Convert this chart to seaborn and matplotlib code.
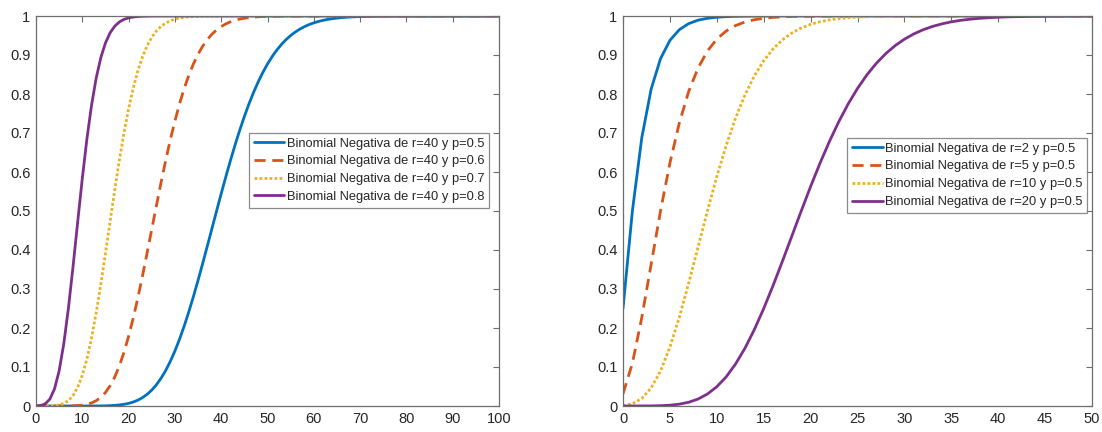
import matplotlib
matplotlib.use("Agg")
import matplotlib.pyplot as plt
import matplotlib.ticker as mticker
import seaborn as sns
import pandas as pd

# ---------------- data ----------------
x_left = list(range(0, 101))
cdf_r40_p05 = [0, 0, 0, 0, 0, 0, 0, 0, 0, 0,
               0.0000, 0.0000, 0.0001, 0.0001, 0.0003, 0.0005, 0.0009, 0.0016, 0.0027, 0.0043,
               0.0067, 0.0102, 0.0150, 0.0215, 0.0300, 0.0408, 0.0544, 0.0710, 0.0909, 0.1142,
               0.1410, 0.1712, 0.2048, 0.2414, 0.2807, 0.3222, 0.3655, 0.4100, 0.4550, 0.5000,
               0.5445, 0.5879, 0.6297, 0.6696, 0.7072, 0.7423, 0.7747, 0.8044, 0.8313, 0.8555,
               0.8770, 0.8959, 0.9125, 0.9269, 0.9393, 0.9499, 0.9589, 0.9665, 0.9728, 0.9781,
               0.9824, 0.9860, 0.9889, 0.9912, 0.9931, 0.9946, 0.9958, 0.9968, 0.9975, 0.9981,
               0.9985, 0.9989, 0.9992, 0.9994, 0.9995, 0.9997, 0.9997, 0.9998, 0.9999, 0.9999,
               0.9999, 1.0, 1.0, 1.0, 1.0, 1.0, 1.0, 1.0, 1.0, 1.0,
               1.0, 1.0, 1.0, 1.0, 1.0, 1.0, 1.0, 1.0, 1.0, 1.0,
               1.0]
cdf_r40_p06 = [0, 0, 0, 0, 0, 0, 0.0001, 0.0002, 0.0005, 0.0010,
               0.0022, 0.0043, 0.0079, 0.0136, 0.0222, 0.0346, 0.0517, 0.0742, 0.1027, 0.1375,
               0.1786, 0.2255, 0.2776, 0.3338, 0.3927, 0.4531, 0.5134, 0.5725, 0.6290, 0.6820,
               0.7307, 0.7748, 0.8138, 0.8479, 0.8772, 0.9020, 0.9226, 0.9396, 0.9534, 0.9644,
               0.9730, 0.9798, 0.9851, 0.9890, 0.9921, 0.9943, 0.9960, 0.9972, 0.9981, 0.9987,
               0.9991, 0.9993, 0.9995, 0.9997, 0.9998, 0.9998, 0.9999, 0.9999, 1.0, 1.0,
               1.0, 1.0, 1.0, 1.0, 1.0, 1.0, 1.0, 1.0, 1.0, 1.0,
               1.0, 1.0, 1.0, 1.0, 1.0, 1.0, 1.0, 1.0, 1.0, 1.0,
               1.0, 1.0, 1.0, 1.0, 1.0, 1.0, 1.0, 1.0, 1.0, 1.0,
               1.0, 1.0, 1.0, 1.0, 1.0, 1.0, 1.0, 1.0, 1.0, 1.0,
               1.0]
cdf_r40_p07 = [0, 0, 0.0001, 0.0003, 0.0009, 0.0026, 0.0064, 0.0138, 0.0269, 0.0480,
               0.0789, 0.1210, 0.1747, 0.2392, 0.3124, 0.3914, 0.4730, 0.5535, 0.6301, 0.7002,
               0.7622, 0.8154, 0.8596, 0.8954, 0.9236, 0.9452, 0.9615, 0.9734, 0.9819, 0.9879,
               0.9920, 0.9949, 0.9967, 0.9980, 0.9987, 0.9992, 0.9996, 0.9997, 0.9999, 0.9999,
               1.0, 1.0, 1.0, 1.0, 1.0, 1.0, 1.0, 1.0, 1.0, 1.0,
               1.0, 1.0, 1.0, 1.0, 1.0, 1.0, 1.0, 1.0, 1.0, 1.0,
               1.0, 1.0, 1.0, 1.0, 1.0, 1.0, 1.0, 1.0, 1.0, 1.0,
               1.0, 1.0, 1.0, 1.0, 1.0, 1.0, 1.0, 1.0, 1.0, 1.0,
               1.0, 1.0, 1.0, 1.0, 1.0, 1.0, 1.0, 1.0, 1.0, 1.0,
               1.0, 1.0, 1.0, 1.0, 1.0, 1.0, 1.0, 1.0, 1.0, 1.0,
               1.0]
cdf_r40_p08 = [0.0001, 0.0012, 0.0056, 0.0178, 0.0440, 0.0902, 0.1595, 0.2506, 0.3576, 0.4717,
               0.5836, 0.6853, 0.7717, 0.8409, 0.8932, 0.9309, 0.9568, 0.9739, 0.9847, 0.9913,
               0.9952, 0.9974, 0.9987, 0.9993, 0.9997, 0.9999, 1.0, 1.0, 1.0, 1.0,
               1.0, 1.0, 1.0, 1.0, 1.0, 1.0, 1.0, 1.0, 1.0, 1.0,
               1.0, 1.0, 1.0, 1.0, 1.0, 1.0, 1.0, 1.0, 1.0, 1.0,
               1.0, 1.0, 1.0, 1.0, 1.0, 1.0, 1.0, 1.0, 1.0, 1.0,
               1.0, 1.0, 1.0, 1.0, 1.0, 1.0, 1.0, 1.0, 1.0, 1.0,
               1.0, 1.0, 1.0, 1.0, 1.0, 1.0, 1.0, 1.0, 1.0, 1.0,
               1.0, 1.0, 1.0, 1.0, 1.0, 1.0, 1.0, 1.0, 1.0, 1.0,
               1.0, 1.0, 1.0, 1.0, 1.0, 1.0, 1.0, 1.0, 1.0, 1.0,
               1.0]

x_right = list(range(0, 51))
cdf_r2_p05 = [0.25, 0.5, 0.6875, 0.8125, 0.8906, 0.9375, 0.9648, 0.9805, 0.9893, 0.9941,
              0.9968, 0.9983, 0.9991, 0.9995, 0.9997, 0.9999, 0.9999, 1.0, 1.0, 1.0,
              1.0, 1.0, 1.0, 1.0, 1.0, 1.0, 1.0, 1.0, 1.0, 1.0,
              1.0, 1.0, 1.0, 1.0, 1.0, 1.0, 1.0, 1.0, 1.0, 1.0,
              1.0, 1.0, 1.0, 1.0, 1.0, 1.0, 1.0, 1.0, 1.0, 1.0,
              1.0]
cdf_r5_p05 = [0.0313, 0.1094, 0.2266, 0.3633, 0.5000, 0.6230, 0.7256, 0.8062, 0.8666, 0.9102,
              0.9408, 0.9616, 0.9755, 0.9846, 0.9904, 0.9941, 0.9964, 0.9978, 0.9987, 0.9992,
              0.9995, 0.9997, 0.9998, 0.9999, 1.0, 1.0, 1.0, 1.0, 1.0, 1.0,
              1.0, 1.0, 1.0, 1.0, 1.0, 1.0, 1.0, 1.0, 1.0, 1.0,
              1.0, 1.0, 1.0, 1.0, 1.0, 1.0, 1.0, 1.0, 1.0, 1.0,
              1.0]
cdf_r10_p05 = [0.0010, 0.0059, 0.0193, 0.0461, 0.0898, 0.1509, 0.2272, 0.3145, 0.4073, 0.5000,
               0.5881, 0.6682, 0.7383, 0.7976, 0.8463, 0.8852, 0.9157, 0.9390, 0.9564, 0.9693,
               0.9786, 0.9853, 0.9900, 0.9932, 0.9955, 0.9970, 0.9980, 0.9987, 0.9992, 0.9995,
               0.9997, 0.9998, 0.9999, 0.9999, 1.0, 1.0, 1.0, 1.0, 1.0, 1.0,
               1.0, 1.0, 1.0, 1.0, 1.0, 1.0, 1.0, 1.0, 1.0, 1.0,
               1.0]
cdf_r20_p05 = [0.0000, 0.0000, 0.0001, 0.0002, 0.0008, 0.0020, 0.0047, 0.0096, 0.0178, 0.0307,
               0.0494, 0.0748, 0.1077, 0.1481, 0.1958, 0.2498, 0.3089, 0.3714, 0.4357, 0.5000,
               0.5627, 0.6224, 0.6780, 0.7288, 0.7743, 0.8143, 0.8490, 0.8785, 0.9033, 0.9238,
               0.9405, 0.9540, 0.9648, 0.9733, 0.9799, 0.9850, 0.9889, 0.9918, 0.9940, 0.9957,
               0.9969, 0.9978, 0.9984, 0.9989, 0.9992, 0.9994, 0.9996, 0.9997, 0.9998, 0.9999,
               0.9999]

labels_left = ["Binomial Negativa de r=40 y p=0.5", "Binomial Negativa de r=40 y p=0.6",
               "Binomial Negativa de r=40 y p=0.7", "Binomial Negativa de r=40 y p=0.8"]
labels_right = ["Binomial Negativa de r=2 y p=0.5", "Binomial Negativa de r=5 y p=0.5",
                "Binomial Negativa de r=10 y p=0.5", "Binomial Negativa de r=20 y p=0.5"]
yticks = [0, 0.1, 0.2, 0.3, 0.4, 0.5, 0.6, 0.7, 0.8, 0.9, 1]
xticks_left = [0, 10, 20, 30, 40, 50, 60, 70, 80, 90, 100]
xticks_right = [0, 5, 10, 15, 20, 25, 30, 35, 40, 45, 50]

# ---------------- style ----------------
sns.set_theme(style="white")
plt.rcParams["font.family"] = ["Liberation Sans", "DejaVu Sans"]

colors = ["#0072BD", "#D95319", "#EDB120", "#7E2F8E"]
styles = ["-", (0, (4, 2.4)), (0, (1, 0.8)), "-"]
axis_gray = "#6e6e6e"
text_col = "#262626"

fig = plt.figure(figsize=(11.02, 4.32), dpi=100)
ax1 = fig.add_axes([36 / 1102, 1 - 406 / 432, 463 / 1102, 390 / 432])
ax2 = fig.add_axes([623 / 1102, 1 - 406 / 432, 469 / 1102, 390 / 432])


def draw(ax, x, series, labels, xticks, xmax, anchor):
    for y, lab, c, ls in zip(series, labels, colors, styles):
        df = pd.DataFrame({"x": x, "y": y})
        sns.lineplot(data=df, x="x", y="y", ax=ax, color=c, linestyle=ls,
                     linewidth=2.0, label=lab)
    ax.set_xlim(0, xmax)
    ax.set_ylim(0, 1)
    ax.set_xticks(xticks)
    ax.set_yticks(yticks)
    ax.yaxis.set_major_formatter(mticker.FormatStrFormatter("%g"))
    ax.set_xlabel("")
    ax.set_ylabel("")
    ax.tick_params(direction="in", length=4, width=0.8, color=axis_gray,
                   labelsize=10.5, labelcolor=text_col, top=True, right=True,
                   pad=4)
    for s in ax.spines.values():
        s.set_visible(True)
        s.set_color(axis_gray)
        s.set_linewidth(0.9)
    leg = ax.legend(loc="upper right", bbox_to_anchor=anchor, fontsize=9.25,
                    frameon=True, fancybox=False, handlelength=2.4,
                    handletextpad=0.18, borderpad=0.36, labelspacing=0.45,
                    borderaxespad=0)
    leg.get_frame().set_edgecolor(axis_gray)
    leg.get_frame().set_linewidth(0.9)
    for t in leg.get_texts():
        t.set_color(text_col)


draw(ax1, x_left, [cdf_r40_p05, cdf_r40_p06, cdf_r40_p07, cdf_r40_p08],
     labels_left, xticks_left, 100, (0.978, 0.700))
draw(ax2, x_right, [cdf_r2_p05, cdf_r5_p05, cdf_r10_p05, cdf_r20_p05],
     labels_right, xticks_right, 50, (0.9893, 0.687))

fig.savefig("out.png", dpi=100)
